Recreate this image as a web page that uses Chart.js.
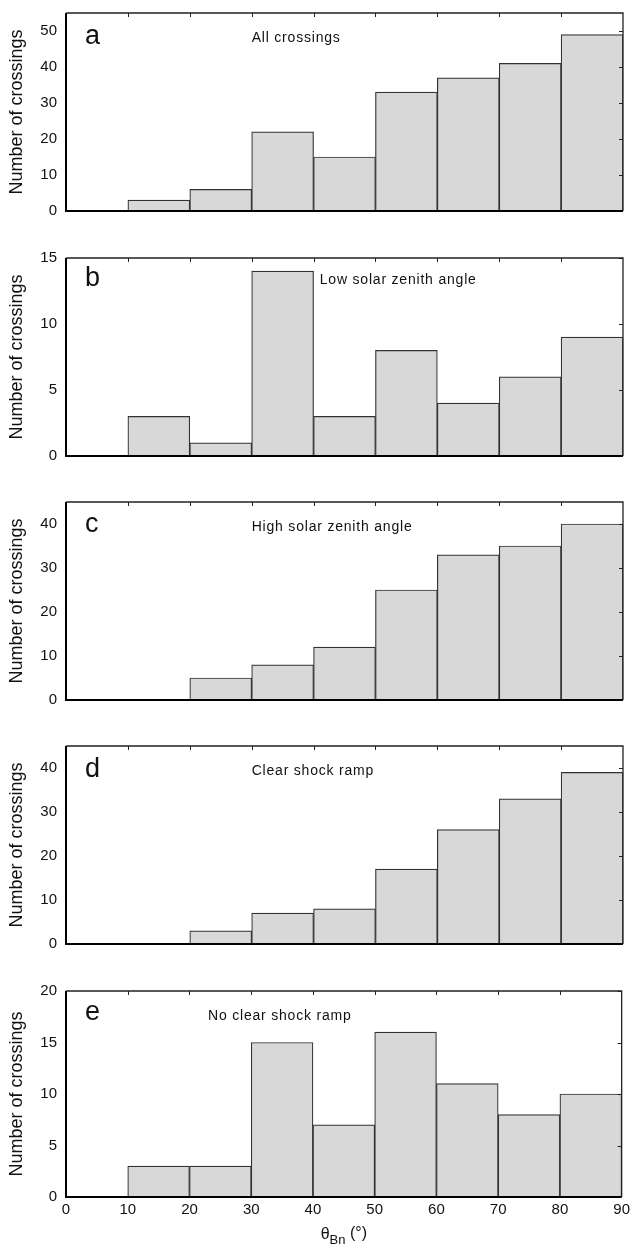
<!DOCTYPE html>
<html>
<head>
<meta charset="utf-8">
<script src="https://cdn.jsdelivr.net/npm/chart.js@4/dist/chart.umd.min.js"></script>
<style>
  html, body { margin: 0; padding: 0; background: #fff; }
  #wrap { position: relative; width: 634px; height: 1251px; overflow: hidden; }
  #wrap canvas { position: absolute; left: 0; }
</style>
</head>
<body>
<div id="wrap"></div>
<script>
// bin centres of theta_Bn (degrees), 10 degree bins
const binCenters = [5, 15, 25, 35, 45, 55, 65, 75, 85];
const xTicks = [0, 10, 20, 30, 40, 50, 60, 70, 80, 90];

const allCrossings = [0, 3, 6, 22, 15, 33, 37, 41, 49];
const lowZenith = [0, 3, 1, 14, 3, 8, 4, 6, 9];
const highZenith = [0, 0, 5, 8, 12, 25, 33, 35, 40];
const clearRamp = [0, 0, 3, 7, 8, 17, 26, 33, 39];
const noClearRamp = [0, 3, 3, 15, 7, 16, 11, 8, 10];

const yTicksA = [0, 10, 20, 30, 40, 50];
const yTicksB = [0, 5, 10, 15];
const yTicksC = [0, 10, 20, 30, 40];
const yTicksD = [0, 10, 20, 30, 40];
const yTicksE = [0, 5, 10, 15, 20];

const panels = [
  { letter: 'a', note: 'All crossings', values: allCrossings, yMax: 55, yTicks: yTicksA, top: 5, noteX: 30, letterDy: 31, noteDy: 29 },
  { letter: 'b', note: 'Low solar zenith angle', values: lowZenith, yMax: 15, yTicks: yTicksB, top: 250, noteX: 41, letterDy: 28, noteDy: 26 },
  { letter: 'c', note: 'High solar zenith angle', values: highZenith, yMax: 45, yTicks: yTicksC, top: 494, noteX: 30, letterDy: 30, noteDy: 29 },
  { letter: 'd', note: 'Clear shock ramp', values: clearRamp, yMax: 45, yTicks: yTicksD, top: 738, noteX: 30, letterDy: 31, noteDy: 29 },
  { letter: 'e', note: 'No clear shock ramp', values: noClearRamp, yMax: 20, yTicks: yTicksE, top: 983, noteX: 23, letterDy: 29, noteDy: 29 }
];

const FONT = '"Liberation Sans", Arial, Helvetica, sans-serif';
const PLOT_H = 214;
const PAD_TOP = 10;

// frame, inner ticks and panel text
const panelDeco = {
  id: 'panelDeco',
  afterDatasetsDraw(chart, args, opts) {
    const { ctx, chartArea: a, scales } = chart;
    ctx.save();
    ctx.strokeStyle = '#222';
    ctx.lineWidth = 1;
    ctx.beginPath();
    xTicks.slice(1, -1).forEach(v => {
      const x = Math.round(scales.x.getPixelForValue(v)) + 0.5;
      ctx.moveTo(x, a.top); ctx.lineTo(x, a.top + 4);
    });
    opts.yTicks.slice(1).forEach(v => {
      const y = Math.round(scales.y.getPixelForValue(v)) + 0.5;
      ctx.moveTo(a.right, y); ctx.lineTo(a.right - 4, y);
    });
    ctx.stroke();

    // top and right edges
    ctx.lineWidth = 1.3;
    ctx.beginPath();
    ctx.moveTo(a.left, a.top); ctx.lineTo(a.right, a.top); ctx.lineTo(a.right, a.bottom);
    ctx.stroke();
    // left and bottom axes, heavier
    ctx.strokeStyle = '#000';
    ctx.lineWidth = 2;
    ctx.beginPath();
    ctx.moveTo(a.left, a.top); ctx.lineTo(a.left, a.bottom); ctx.lineTo(a.right, a.bottom);
    ctx.stroke();

    ctx.fillStyle = '#111';
    ctx.textBaseline = 'alphabetic';
    ctx.textAlign = 'left';
    ctx.font = '27px ' + FONT;
    ctx.fillText(opts.letter, a.left + 19, a.top + opts.letterDy);
    ctx.font = '14px ' + FONT;
    ctx.letterSpacing = '0.8px';
    ctx.fillText(opts.note, scales.x.getPixelForValue(opts.noteX), a.top + opts.noteDy);
    ctx.letterSpacing = '0px';

    if (opts.xTitle) {
      const cx = (a.left + a.right) / 2;
      const base = a.bottom + 42;
      ctx.font = '16px ' + FONT;
      const w1 = ctx.measureText('θ').width;
      ctx.font = '13px ' + FONT;
      const w2 = ctx.measureText('Bn').width;
      ctx.font = '16px ' + FONT;
      const w3 = ctx.measureText(' (°)').width;
      let x = cx - (w1 + w2 + w3) / 2;
      ctx.fillText('θ', x, base);
      x += w1;
      ctx.font = '13px ' + FONT;
      ctx.fillText('Bn', x, base + 5);
      x += w2;
      ctx.font = '16px ' + FONT;
      ctx.fillText(' (°)', x, base - 1);
    }
    ctx.restore();
  }
};

const wrap = document.getElementById('wrap');

panels.forEach((p, i) => {
  const last = i === panels.length - 1;
  const canvas = document.createElement('canvas');
  const top = p.top - PAD_TOP;
  const height = last ? 1251 - top : PLOT_H + 2 * PAD_TOP;
  canvas.width = 634;
  canvas.height = height;
  canvas.style.top = top + 'px';
  wrap.appendChild(canvas);

  const xAxisH = last ? 22 : 0;
  new Chart(canvas, {
    type: 'bar',
    data: {
      datasets: [{
        data: binCenters.map((c, k) => ({ x: c, y: p.values[k] })),
        backgroundColor: '#d8d8d8',
        borderColor: '#333',
        borderWidth: 1.2,
        borderSkipped: false,
        barPercentage: 1,
        categoryPercentage: 1
      }]
    },
    options: {
      responsive: false,
      animation: false,
      events: [],
      layout: { padding: { top: PAD_TOP, right: 11, left: 0, bottom: height - PAD_TOP - PLOT_H - xAxisH } },
      plugins: {
        legend: { display: false },
        tooltip: { enabled: false },
        panelDeco: { letter: p.letter, note: p.note, noteX: p.noteX, letterDy: p.letterDy, noteDy: p.noteDy, yTicks: p.yTicks, xTitle: last }
      },
      scales: {
        x: {
          type: 'linear',
          offset: false,
          min: 0,
          max: 90,
          display: last,
          afterBuildTicks: s => { s.ticks = xTicks.map(v => ({ value: v })); },
          afterFit: s => { s.height = xAxisH; },
          grid: { display: false, drawTicks: false },
          border: { display: false },
          ticks: { padding: 4, color: '#111', font: { family: FONT, size: 15 }, maxRotation: 0 }
        },
        y: {
          min: 0,
          max: p.yMax,
          afterBuildTicks: s => { s.ticks = p.yTicks.map(v => ({ value: v })); },
          afterFit: s => { s.width = 66; },
          grid: { display: false, drawTicks: false },
          border: { display: false },
          ticks: { padding: 9, color: '#111', font: { family: FONT, size: 15 } },
          title: {
            display: true,
            text: 'Number of crossings',
            color: '#111',
            font: { family: FONT, size: 18 },
            padding: { top: 6, bottom: 0 }
          }
        }
      }
    },
    plugins: [panelDeco]
  });
});
</script>
</body>
</html>
